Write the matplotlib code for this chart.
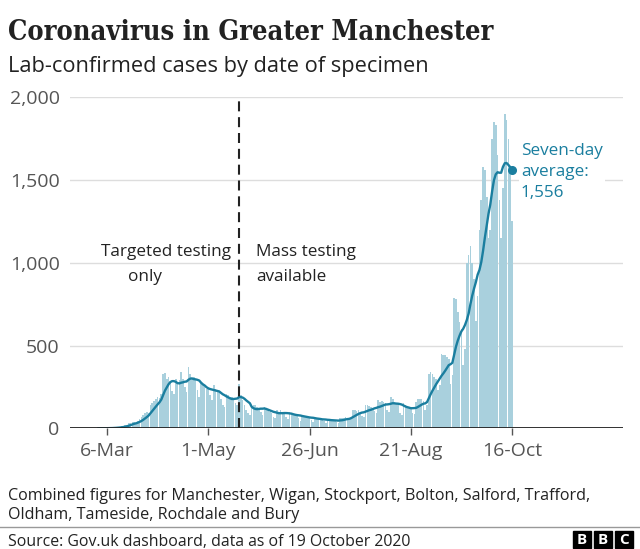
import matplotlib
matplotlib.use("Agg")
import matplotlib.pyplot as plt
import matplotlib.dates as mdates
from matplotlib.patches import Rectangle
from matplotlib.lines import Line2D
import numpy as np
import pandas as pd

# daily lab-confirmed cases, Greater Manchester, from 1 March 2020 (Sun..Sat rows)
cases = [
    0, 0, 1, 0, 1, 2, 1,
    2, 3, 4, 6, 7, 9, 11,
    12, 18, 22, 30, 32, 38, 40,
    30, 45, 55, 70, 80, 95, 100,
    95, 140, 150, 165, 175, 190, 185,
    210, 330, 335, 300, 310, 285, 225,
    210, 300, 280, 290, 340, 300, 250,
    220, 370, 330, 300, 310, 290, 230,
    190, 280, 260, 250, 240, 240, 200,
    170, 260, 240, 230, 220, 180, 140,
    130, 210, 200, 190, 190, 180, 150,
    140, 270, 200, 170, 140, 110, 90,
    80, 120, 140, 140, 130, 120, 100,
    80, 130, 120, 110, 100, 90, 70,
    60, 110, 100, 110, 100, 95, 70,
    55, 100, 90, 85, 80, 80, 60,
    45, 80, 75, 70, 65, 65, 50,
    40, 65, 60, 60, 55, 50, 45,
    35, 55, 55, 50, 50, 45, 40,
    30, 65, 60, 65, 70, 60, 50,
    60, 110, 110, 105, 110, 95, 75,
    70, 140, 140, 135, 130, 125, 105,
    90, 170, 160, 165, 160, 155, 110,
    100, 190, 180, 160, 150, 150, 95,
    80, 150, 140, 130, 130, 125, 95,
    85, 160, 180, 180, 175, 165, 110,
    140, 330, 340, 330, 310, 300, 230,
    260, 450, 440, 440, 430, 420, 270,
    320, 790, 780, 700, 640, 600, 380,
    480, 1000, 1050, 1100, 1000, 900, 650,
    800, 1200, 1380, 1580, 1560, 1400, 1150,
    1200, 1750, 1850, 1830, 1650, 1380, 1150,
    1450, 1900, 1860, 1750, 1560, 1250,
]
start_date = "2020-03-01"
tick_dates = ["2020-03-06", "2020-05-01", "2020-06-26", "2020-08-21", "2020-10-16"]
tick_labels = ["6-Mar", "1-May", "26-Jun", "21-Aug", "16-Oct"]
y_ticks = [0, 500, 1000, 1500, 2000]
y_labels = ["0", "500", "1,000", "1,500", "2,000"]
mass_testing_date = "2020-05-18"
latest_avg_label = "Seven-day\naverage:\n1,556"

BAR = "#a9d0dd"
TEAL = "#1a7e9f"
DARK = "#222222"
GREY = "#555555"
SANS = ["Open Sans", "DejaVu Sans"]

W, H = 640, 549


def fx(px):
    return px / W


def fy(py):
    return 1 - py / H


dates = pd.date_range(start_date, periods=len(cases), freq="D")
avg = pd.Series(cases, index=dates).rolling(7, min_periods=1).mean()

fig = plt.figure(figsize=(W / 100, H / 100), dpi=100)
ax = fig.add_axes([fx(70), fy(428.3), 553 / W, 331 / H])

ax.bar(dates, cases, width=0.9, color=BAR, linewidth=0, zorder=2)
ax.plot(dates, avg.values, color=TEAL, lw=1.7, zorder=3, solid_capstyle="round")
ax.plot(dates[-1:], avg.values[-1:], "o", color=TEAL, ms=5.5, zorder=4)

ax.axvline(pd.Timestamp(mass_testing_date), color=DARK, lw=1.5,
           linestyle=(0, (4.8, 2.8)), zorder=4)
ax.axhline(0, color=DARK, lw=1.3, zorder=5)

t0 = mdates.date2num(pd.Timestamp("2020-03-06"))
ax.set_xlim(t0 - 20.5, t0 + 285.4)
ax.set_ylim(0, 2000)

ax.set_yticks(y_ticks)
ax.set_yticklabels(y_labels, fontsize=14, color=GREY, family=SANS)
ax.set_xticks([pd.Timestamp(d) for d in tick_dates])
ax.set_xticklabels(tick_labels, fontsize=14, color=GREY, family=SANS)
ax.tick_params(axis="y", length=0, pad=7.5)
ax.tick_params(axis="x", length=5, width=1, color=GREY, pad=5)
ax.grid(axis="y", color="#dddddd", lw=1, zorder=0)
ax.set_axisbelow(True)
for s in ax.spines.values():
    s.set_visible(False)

box = dict(facecolor="white", edgecolor="none", pad=1.5)
fig.text(fx(101), fy(252), "Targeted testing", fontsize=12.3, color=DARK,
         family=SANS, va="center", bbox=box)
fig.text(fx(128), fy(277), "only", fontsize=12.3, color=DARK,
         family=SANS, va="center", bbox=box)
fig.text(fx(256), fy(252), "Mass testing", fontsize=12.3, color=DARK,
         family=SANS, va="center", bbox=box)
fig.text(fx(256), fy(277), "available", fontsize=12.3, color=DARK,
         family=SANS, va="center", bbox=box)
fig.text(fx(521), fy(172), latest_avg_label, fontsize=12.3, color=TEAL,
         family=SANS, va="center", linespacing=1.45, bbox=box)

# headers
fig.text(fx(8), fy(40), "Coronavirus in Greater Manchester", fontsize=19.5,
         color=DARK, family="DejaVu Serif", weight="bold", stretch="condensed",
         va="baseline")
fig.text(fx(8), fy(72), "Lab-confirmed cases by date of specimen", fontsize=15.7,
         color=DARK, family=SANS, va="baseline")

# footer
fig.text(fx(8), fy(500), "Combined figures for Manchester, Wigan, Stockport, Bolton, Salford, Trafford,",
         fontsize=11.6, color=DARK, family=SANS, va="baseline")
fig.text(fx(8), fy(519), "Oldham, Tameside, Rochdale and Bury",
         fontsize=11.6, color=DARK, family=SANS, va="baseline")
fig.add_artist(Line2D([0, 1], [fy(527), fy(527)], color="#999999", lw=1,
                      transform=fig.transFigure))
fig.text(fx(8), fy(546), "Source: Gov.uk dashboard, data as of 19 October 2020",
         fontsize=11.4, color=DARK, family=SANS, va="baseline")

for i, letter in enumerate("BBC"):
    x0 = 573 + i * 21
    fig.add_artist(Rectangle((fx(x0), fy(548)), 18 / W, 17 / H, color="black",
                             transform=fig.transFigure))
    fig.text(fx(x0 + 9), fy(539.5), letter, fontsize=11, color="white",
             family=SANS, weight="bold", ha="center", va="center")

fig.savefig("out.png", dpi=100)
